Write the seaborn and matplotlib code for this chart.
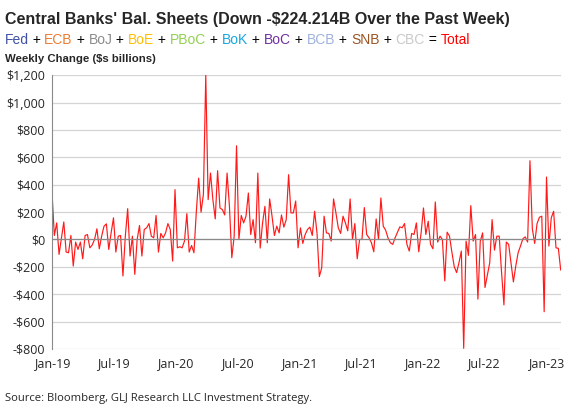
import matplotlib
matplotlib.use("Agg")
import matplotlib.pyplot as plt
import matplotlib.dates as mdates
from matplotlib.ticker import FuncFormatter, MultipleLocator
import numpy as np
import pandas as pd
import seaborn as sns

# weekly change in combined central bank balance sheets, $bn
vals_2019 = [352, 29, 121, -109, 10, 128, -92, -97, 29, -194, -19, -73, -19, -141, 29, 36,
             -61, -41, 0, 78, -68, 24, 97, 114, -73, 48, 158, -92, 24, 29, -267, 24, 225,
             -121, 24, -255, 0, 102, -121, 73, 85, 116, 24, 12, 175, -92, 44, 12, 48, 116,
             73, -158, 364, -61, -53, -61, -12, 189, -92, -44, -97, 200, 448]
vals_2020_21 = [199, 330, 1200, 291, 485, 291, 150, 502, 230, 218,
                179, 485, 242, -133, 24, 684, 0, 175, 121, 170,
                339, 36, 145, -24, 485, -63, 121, 242, -24, 296,
                170, 29, 97, 48, 179, 90, 145, 473, 194, 194,
                281, -61, 85, -29, 36, 73, 90, 29, 206, 48,
                -271, -206, 170, 48, 44, -12, 296, 194, 85, 44,
                170, 121, 63, 296, 0, 116, -141, 0, 0, 233,
                36, 12, -24, -90, 150, 0]
vals_2021_23 = [303, 97, 68, 12, -24, -36, 12, 53, 92, 85,
                116, -36, -85, 44, 36, 121, -90, 48, 230, 36,
                133, -36, -68, 274, -19, 24, 0, -303, 53, 24,
                -92, -199, -242, -170, -85, -795, -12, -116, 247, -12,
                36, -436, -12, 48, -351, -262, -170, 145, -78, 24,
                24, -242, -478, -19, -36, -170, -310, -194, -97, -48,
                5, 19, -19, 575, 78, -29, 116, 162, 170, -528,
                456, -48, 158, 206, -61, -65, -224.214]

banks = ["Fed", "ECB", "BoJ", "BoE", "PBoC", "BoK", "BoC", "BCB", "SNB", "CBC"]
bank_colors = ["#3f51a3", "#ed7d31", "#8c8c8c", "#ffc000", "#92d050", "#1aa7e0",
               "#7030a0", "#9fb2dc", "#9c5524", "#c9c9c9"]

values = vals_2019 + vals_2020_21 + vals_2021_23
dates = pd.date_range("2019-01-01", periods=len(values), freq="7D")
df = pd.DataFrame({"date": dates, "change": values})

sns.set_style("white")
plt.rcParams["font.family"] = ["Liberation Sans", "DejaVu Sans"]

fig = plt.figure(figsize=(5.71, 4.13), dpi=100)
ax = fig.add_axes([0.091, 0.155, 0.891, 0.663])

sns.lineplot(data=df, x="date", y="change", color="#ff1a1a", linewidth=0.85, ax=ax)

ax.set_ylim(-800, 1200)
ax.set_xlim(dates[0], dates[-1])
ax.yaxis.set_major_locator(MultipleLocator(200))
ax.yaxis.set_major_formatter(FuncFormatter(lambda v, p: ("-$" if v < 0 else "$") + f"{abs(v):,.0f}"))
ax.xaxis.set_major_locator(mdates.MonthLocator(bymonth=[1, 7]))
ax.xaxis.set_major_formatter(mdates.DateFormatter("%b-%y"))
ax.grid(axis="y", color="#d4d4d4", linewidth=0.9)
ax.axhline(0, color="#8a8a8a", linewidth=0.9)
ax.set_axisbelow(True)
for s in ["top", "right", "bottom"]:
    ax.spines[s].set_visible(False)
ax.spines["left"].set_color("#8a8a8a")
ax.tick_params(axis="y", length=3, color="#8a8a8a", pad=2)
ax.tick_params(axis="x", length=0, pad=6)
ax.set_xlabel("")
ax.set_ylabel("")
for lab in ax.get_xticklabels() + ax.get_yticklabels():
    lab.set_fontfamily(["Open Sans", "DejaVu Sans"])
    lab.set_fontsize(9)

fig.text(0.008, 0.942, "Central Banks' Bal. Sheets (Down -$224.214B Over the Past Week)",
         fontsize=11.5, fontweight="bold", va="baseline")

# coloured legend line, one word at a time
fig.canvas.draw()
renderer = fig.canvas.get_renderer()
x = 0.008
parts = []
for i, (b, c) in enumerate(zip(banks, bank_colors)):
    parts.append((b, c))
    parts.append((" + " if i < len(banks) - 1 else " = ", "black"))
parts.append(("Total", "#ff0000"))
for txt, col in parts:
    t = fig.text(x, 0.893, txt, color=col, fontsize=10, va="baseline")
    bb = t.get_window_extent(renderer)
    x += bb.width / fig.bbox.width

fig.text(0.008, 0.85, "Weekly Change ($s billions)", fontsize=8.2, fontweight="bold", va="baseline")
fig.text(0.008, 0.028, "Source: Bloomberg, GLJ Research LLC Investment Strategy.",
         fontsize=8.1, family=["Open Sans", "DejaVu Sans"], va="baseline")

fig.savefig("out.png", dpi=100)
